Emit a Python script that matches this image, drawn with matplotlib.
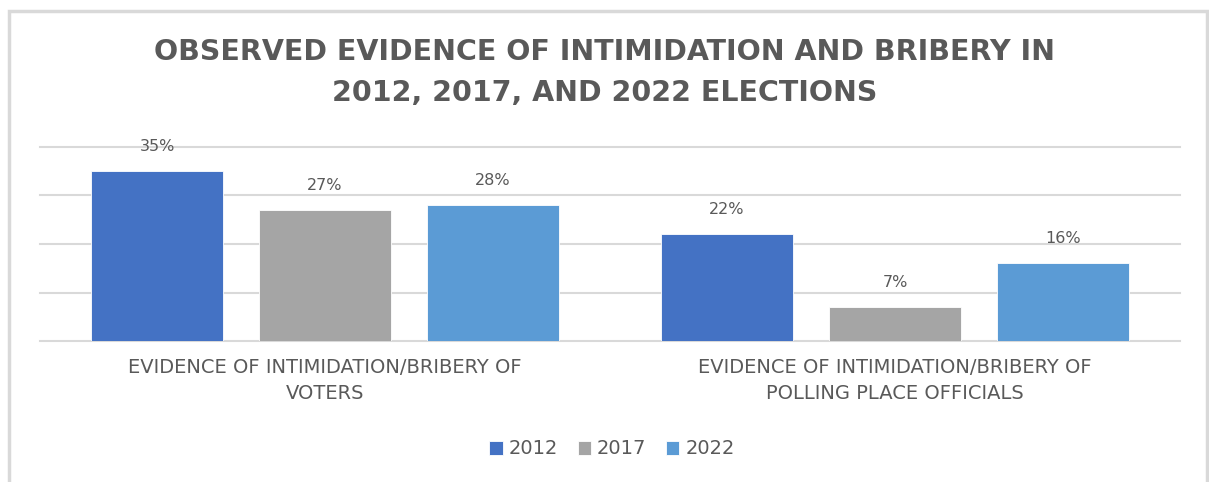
import numpy as np
import matplotlib as mplt
mplt.use('Agg')
import matplotlib.pyplot as plt
from matplotlib.patches import Rectangle

categories = ['EVIDENCE OF INTIMIDATION/BRIBERY OF\nVOTERS',
              'EVIDENCE OF INTIMIDATION/BRIBERY OF\nPOLLING PLACE OFFICIALS']
years = ['2012', '2017', '2022']
v2012 = [35, 22]
v2017 = [27, 7]
v2022 = [28, 16]
colors = ['#4472C4', '#A5A5A5', '#5B9BD5']
txt = '#595959'

W, H = 1209, 482
fig = plt.figure(figsize=(W/100, H/100), dpi=100)
ax = fig.add_axes([40/W, 1-341/H, 1140/W, 194/H])

x = np.arange(len(categories))
bw = 132/570
step = 168/570
for i, (vals, c, yr) in enumerate(zip([v2012, v2017, v2022], colors, years)):
    bars = ax.bar(x + (i-1)*step, vals, bw, color=c, edgecolor='white', lw=0.6, label=yr, zorder=3)
    for b, v in zip(bars, vals):
        ax.annotate(f'{v}%', (b.get_x()+b.get_width()/2, v), xytext=(0, 18), textcoords='offset points',
                    ha='center', va='center', fontsize=11.5, color=txt, zorder=4)

ax.set_xlim(-0.5, 1.5)
ax.set_ylim(0, 40)
ax.set_yticks([0, 10, 20, 30, 40])
ax.yaxis.grid(True, color='#d9d9d9', lw=1.5, zorder=0)
for gl in ax.get_ygridlines():
    gl.set_clip_on(False)
ax.tick_params(left=False, labelleft=False, bottom=False)
ax.set_xticks(x)
ax.set_xticklabels(categories, fontsize=14, color=txt, linespacing=1.45)
ax.tick_params(axis='x', pad=9)
for s in ax.spines.values():
    s.set_visible(False)

fig.text(0.5, 1-52/H, 'OBSERVED EVIDENCE OF INTIMIDATION AND BRIBERY IN', ha='center', va='center',
         fontsize=20.5, fontweight='bold', color=txt)
fig.text(0.5, 1-93/H, '2012, 2017, AND 2022 ELECTIONS', ha='center', va='center',
         fontsize=20.5, fontweight='bold', color=txt)

handles, labels = ax.get_legend_handles_labels()
fig.legend(handles, labels, ncol=3, loc='center', bbox_to_anchor=(612/W, 1-449/H), frameon=False,
           fontsize=14, handlelength=0.7, handleheight=0.7, handletextpad=0.3, columnspacing=1.0,
           labelcolor=txt)

fig.patches.append(Rectangle((9/W, -0.1), 1198/W, 1.1-11/H, transform=fig.transFigure,
                             fill=False, edgecolor='#d9d9d9', lw=2.5))

plt.savefig('out.png', dpi=100)
